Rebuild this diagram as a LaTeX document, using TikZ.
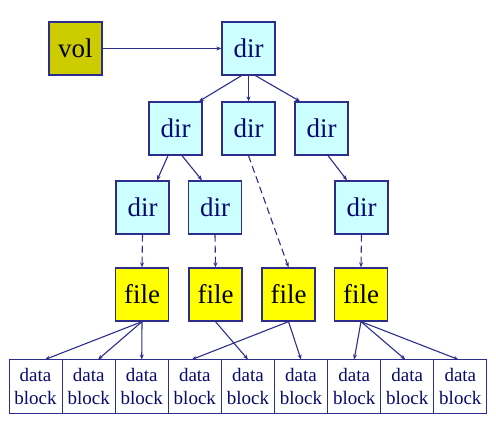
\documentclass[tikz,border=0pt]{standalone}
\usepackage{fontspec}
\setmainfont{Liberation Serif}
\usetikzlibrary{arrows.meta}
\definecolor{edgeblue}{RGB}{45,45,140}
\definecolor{txtblue}{RGB}{10,10,110}
\definecolor{dirfill}{RGB}{204,255,255}
\definecolor{volfill}{RGB}{204,204,0}
\definecolor{filefill}{RGB}{255,255,0}
\tikzset{
  box/.style={draw=edgeblue, line width=1.3pt, minimum width=53pt, minimum height=53pt, inner sep=0pt, font=\fontsize{27}{30}\selectfont},
  dirbox/.style={box, fill=dirfill, text=txtblue},
  volbox/.style={box, fill=volfill, text=black},
  filebox/.style={box, fill=filefill, text=black},
  blockbox/.style={draw=edgeblue, line width=1pt, fill=white, minimum width=53.1pt, minimum height=54pt, inner sep=0pt, align=center, text=txtblue, font=\fontsize{19}{23}\selectfont},
  conn/.style={draw=edgeblue, line width=1.1pt, -{Stealth[length=5pt,width=4pt]}},
  dconn/.style={conn, dash pattern=on 7pt off 4pt},
}
\begin{document}
\begin{tikzpicture}[x=1pt,y=-1pt]
\useasboundingbox (0,0) rectangle (496,427);
\node[volbox] (vol) at (75.5,48.5) {vol};
\node[dirbox] (top) at (248.5,48.5) {dir};
\node[dirbox] (d1) at (175.5,128.5) {dir};
\node[dirbox] (d2) at (248.5,128.5) {dir};
\node[dirbox] (d3) at (321.5,128.5) {dir};
\node[dirbox] (dA) at (142.5,207.5) {dir};
\node[dirbox] (dB) at (215,207.5) {dir};
\node[dirbox] (dC) at (361.5,207.5) {dir};
\node[filebox] (f1) at (142,294.5) {file};
\node[filebox] (f2) at (215.5,294.5) {file};
\node[filebox] (f3) at (288.5,294.5) {file};
\node[filebox] (f4) at (361,294.5) {file};
\foreach \i in {1,...,9} {
  \node[blockbox] (b\i) at ({9+26.55+53.1*(\i-1)},387) {data\\block};
}
\draw[conn] (vol) -- (top);
\draw[conn] ([xshift=-7pt]top.south) -- ([xshift=23.5pt]d1.north);
\draw[conn] (top.south) -- (d2.north);
\draw[conn] ([xshift=7pt]top.south) -- ([xshift=-21.5pt]d3.north);
\draw[conn] ([xshift=-7.5pt]d1.south) -- ([xshift=14.5pt]dA.north);
\draw[conn] ([xshift=6.5pt]d1.south) -- ([xshift=-13pt]dB.north);
\draw[conn] ([xshift=6.5pt]d3.south) -- ([xshift=-14.5pt]dC.north);
\draw[dconn] (d2.south) -- (f3.north);
\draw[dconn] (dA.south) -- (f1.north);
\draw[dconn] (dB.south) -- (f2.north);
\draw[dconn] (dC.south) -- (f4.north);
\draw[conn] (f1.south) -- ([xshift=9.5pt]b1.north);
\draw[conn] (f1.south) -- ([xshift=9.4pt]b2.north);
\draw[conn] (f1.south) -- (b3.north);
\draw[conn] (f2.south) -- (b5.north);
\draw[conn] (f3.south) -- ([xshift=-3pt]b4.north);
\draw[conn] (f3.south) -- (b6.north);
\draw[conn] (f4.south) -- (b7.north);
\draw[conn] (f4.south) -- ([xshift=-2pt]b8.north);
\draw[conn] (f4.south) -- ([xshift=-2pt]b9.north);
\end{tikzpicture}
\end{document}
